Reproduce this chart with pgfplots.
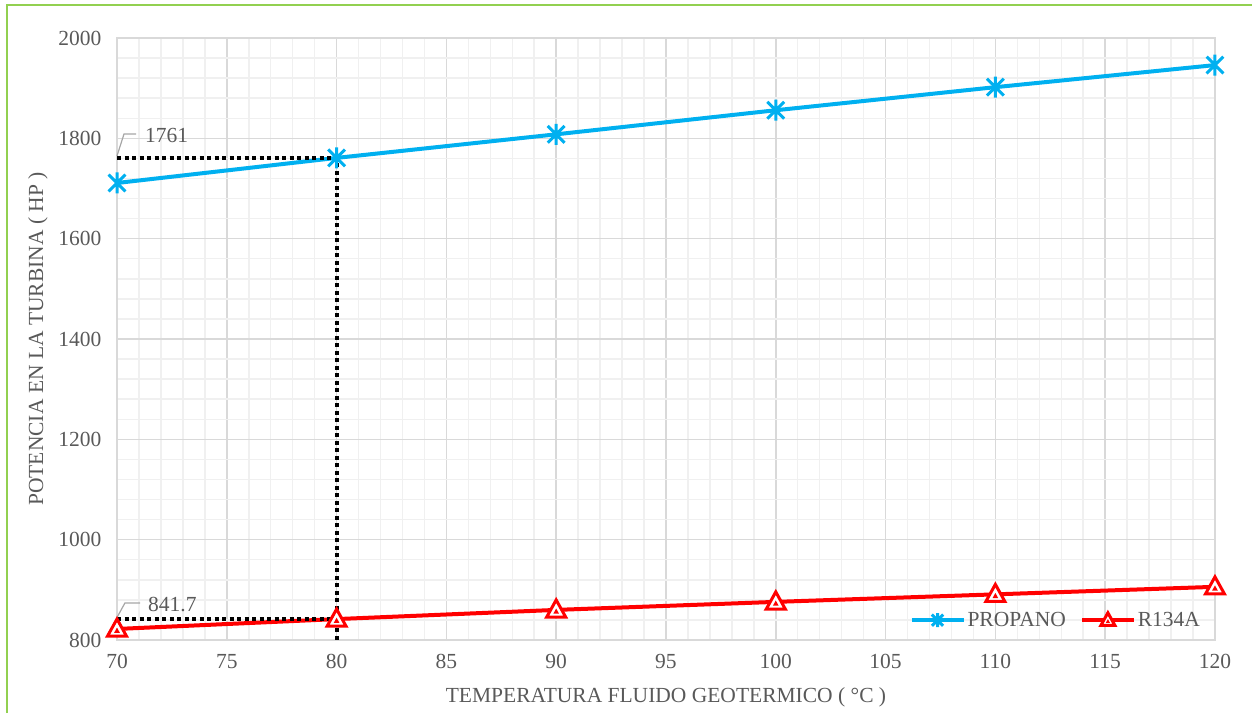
\documentclass[border=0pt]{standalone}
\usepackage{fontspec}
\setmainfont{Liberation Serif}
\usepackage{pgfplots}
\pgfplotsset{compat=1.18}
\definecolor{propano}{HTML}{00B0F0}
\definecolor{rojo}{HTML}{FF0000}
\definecolor{txt}{HTML}{595959}
\definecolor{majg}{HTML}{D9D9D9}
\definecolor{ming}{HTML}{F0F0F0}
\definecolor{verde}{HTML}{92D050}
\definecolor{lead}{HTML}{A6A6A6}

\pgfdeclareplotmark{xstar}{%
  \pgfpathmoveto{\pgfpoint{0pt}{\pgfplotmarksize}}%
  \pgfpathlineto{\pgfpoint{0pt}{-\pgfplotmarksize}}%
  \pgfpathmoveto{\pgfpoint{-0.8\pgfplotmarksize}{0.8\pgfplotmarksize}}%
  \pgfpathlineto{\pgfpoint{0.8\pgfplotmarksize}{-0.8\pgfplotmarksize}}%
  \pgfpathmoveto{\pgfpoint{-0.8\pgfplotmarksize}{-0.8\pgfplotmarksize}}%
  \pgfpathlineto{\pgfpoint{0.8\pgfplotmarksize}{0.8\pgfplotmarksize}}%
  \pgfusepathqstroke}
\pgfdeclareplotmark{tri2}{%
  \pgfpathmoveto{\pgfpoint{0pt}{1.05\pgfplotmarksize}}%
  \pgfpathlineto{\pgfpoint{-\pgfplotmarksize}{-0.75\pgfplotmarksize}}%
  \pgfpathlineto{\pgfpoint{\pgfplotmarksize}{-0.75\pgfplotmarksize}}%
  \pgfpathclose
  \pgfusepathqfillstroke
  \begin{pgfscope}%
  \pgfpathmoveto{\pgfpoint{0pt}{0.15\pgfplotmarksize}}%
  \pgfpathlineto{\pgfpoint{-0.3\pgfplotmarksize}{-0.4\pgfplotmarksize}}%
  \pgfpathlineto{\pgfpoint{0.3\pgfplotmarksize}{-0.4\pgfplotmarksize}}%
  \pgfpathclose
  \pgfsetfillcolor{rojo}%
  \pgfusepathqfill
  \end{pgfscope}}

\begin{document}
\begin{tikzpicture}[x=1pt,y=1pt]
\useasboundingbox (0,0) rectangle (1252,713);
\draw[verde, line width=2pt] (7,0) -- (7,708) -- (1252,708);
\begin{axis}[
  at={(117pt,73pt)}, anchor=south west,
  scale only axis, width=1098pt, height=602pt,
  xmin=70, xmax=120, ymin=800, ymax=2000,
  xtick={70,75,...,120}, ytick={800,1000,...,2000},
  minor x tick num=4, minor y tick num=4,
  grid=both,
  major grid style={majg, line width=1.5pt},
  minor grid style={ming, line width=1.5pt},
  axis line style={majg, line width=1.5pt},
  major tick length=0pt, minor tick length=0pt,
  font=\fontsize{21.5}{25}\selectfont,
  tick label style={text=txt},
  /pgf/number format/assume math mode=true,
  /pgf/number format/1000 sep={},
  xticklabel style={yshift=-11pt},
  yticklabel style={xshift=-12pt},
  xlabel={TEMPERATURA FLUIDO GEOTERMICO ( °C )},
  ylabel={POTENCIA EN LA TURBINA ( HP )},
  every axis x label/.style={at={(rel axis cs:0.5,0)}, yshift=-57pt, anchor=center, text=txt},
  every axis y label/.style={at={(rel axis cs:0,0.5)}, xshift=-79pt, rotate=90, anchor=center, text=txt},
  clip=false,
  legend columns=2,
  legend style={at={(0.855,0.033)}, anchor=center, draw=none, fill=none,
    text=txt, font=\fontsize{21.5}{25}\selectfont,
    /tikz/every even column/.append style={column sep=12pt}},
  legend image code/.code={\draw[mark repeat=2,mark phase=2,mark size=7pt] plot coordinates {(0pt,0pt) (26pt,0pt) (52pt,0pt)};},
]
\addplot[propano, line width=4pt, mark=xstar, mark size=10.5pt, mark options={line width=3pt}]
  coordinates {(70,1711) (80,1761) (90,1808) (100,1856) (110,1902) (120,1946)};
\addlegendentry{PROPANO}
\addplot[rojo, line width=4pt, mark=tri2, mark size=9.5pt, mark options={line width=3pt, fill=white}]
  coordinates {(70,822) (80,841.7) (90,860) (100,876) (110,891) (120,906)};
\addlegendentry{R134A}
\addplot[black, line width=4pt, dash pattern=on 4pt off 3.5pt, forget plot]
  coordinates {(70,1761) (80,1761) (80,800)};
\addplot[black, line width=4pt, dash pattern=on 4pt off 3.5pt, forget plot]
  coordinates {(70,841.7) (80,841.7)};
\draw[lead, line width=1.2pt] (axis cs:70,1765) -- (axis cs:70.32,1808.7) -- (axis cs:70.87,1808.7);
\node[anchor=west, text=txt, inner sep=0pt, font=\fontsize{21.5}{25}\selectfont] at (axis cs:71.27,1805.7) {1761};
\draw[lead, line width=1.2pt] (axis cs:70,845) -- (axis cs:70.36,873.7) -- (axis cs:71.05,873.7);
\node[anchor=west, text=txt, inner sep=0pt, font=\fontsize{21.5}{25}\selectfont] at (axis cs:71.41,870.8) {841.7};
\end{axis}
\end{tikzpicture}
\end{document}
